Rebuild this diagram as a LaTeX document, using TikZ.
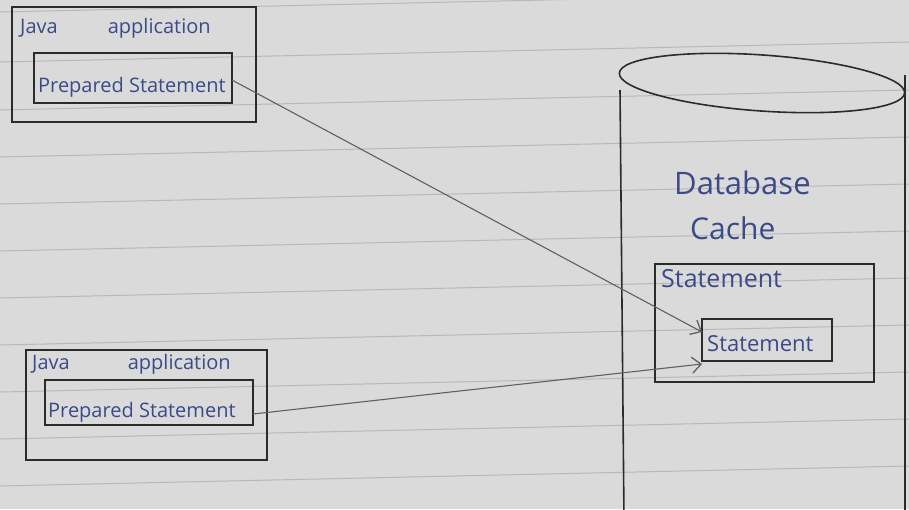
\documentclass[tikz,border=0pt]{standalone}
\usepackage{fontspec}
\setmainfont{Open Sans}
\usetikzlibrary{arrows.meta}
\definecolor{paper}{HTML}{DADADA}
\definecolor{rule}{HTML}{B8B8B8}
\definecolor{ink}{HTML}{2B2B2B}
\definecolor{pen}{HTML}{3B4A88}
\tikzset{
  box/.style={draw=ink, line width=1.6pt},
  lbl/.style={text=pen, font=\fontsize{20}{22}\selectfont, inner sep=0pt},
  conn/.style={draw=ink!75, line width=1.1pt, -{Straight Barb[length=9pt,width=16pt,line width=1.3pt]}},
}
\begin{document}
\begin{tikzpicture}[x=1pt,y=-1pt]
\useasboundingbox (0,0) rectangle (909,509);
\fill[paper] (0,0) rectangle (909,509);
% ruled paper lines
\begin{scope}
\clip (0,0) rectangle (909,509);
\foreach \yy in {12,62,110,157,204,251,298,345,392,439,486} {
  \draw[rule, line width=1pt] (0,\yy) -- (909,\yy-20);
}
\end{scope}
% top Java application
\draw[box] (12,7) rectangle (256,122);
\node[lbl, anchor=west] (t1) at (20,28) {Java\hspace{50pt}application};
\draw[box] (34,53) rectangle (232,103);
\node[lbl, anchor=west] (p1) at (38,87) {Prepared Statement};
\coordinate (a1) at (232,80);
% bottom Java application
\draw[box] (26,350) rectangle (267,460);
\node[lbl, anchor=west] (t2) at (32,364) {Java\hspace{58pt}application};
\draw[box] (45,380) rectangle (253,425);
\node[lbl, anchor=west] (p2) at (48,412) {Prepared Statement};
\coordinate (a2) at (253,414);
% database cylinder
\begin{scope}
\clip (0,0) rectangle (909,509);
\draw[box] (620,90) -- (624,520);
\draw[box] (905,75) -- (905,520);
\draw[box, rotate around={-4:(762,83)}] (762,83) ellipse [x radius=143, y radius=28];
\end{scope}
\node[lbl, font=\fontsize{31}{34}\selectfont, anchor=west] (db) at (674,183) {Database};
\node[lbl, font=\fontsize{30}{34}\selectfont, anchor=west] (cache) at (690,228) {Cache};
% statement cache boxes
\draw[box] (655,264) rectangle (874,382);
\node[lbl, font=\fontsize{25}{28}\selectfont, anchor=west] (s1) at (661,279) {Statement};
\draw[box] (702,319) rectangle (832,361);
\node[lbl, font=\fontsize{22}{25}\selectfont, anchor=west] (s2) at (707,344) {Statement};
\coordinate (b1) at (702,332);
\coordinate (b2) at (702,364);
% connectors
\draw[conn] (a1) -- (b1);
\draw[conn] (a2) -- (b2);
\end{tikzpicture}
\end{document}
